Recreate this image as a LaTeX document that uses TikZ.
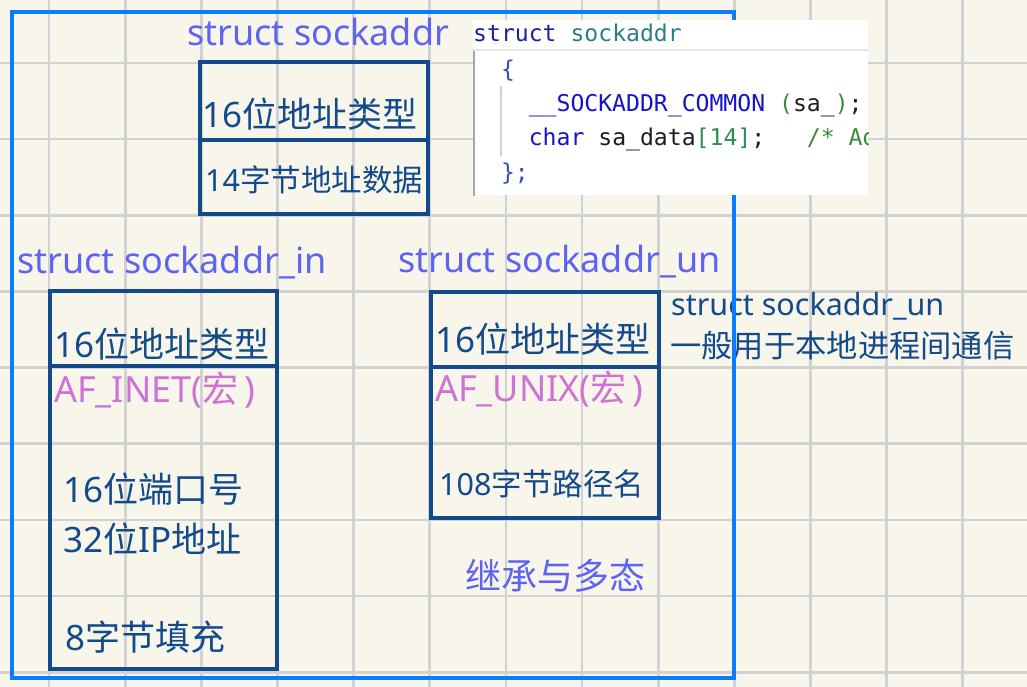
\documentclass[tikz,border=0pt]{standalone}
\usepackage{fontspec}
\setmainfont{Noto Sans}
\newfontfamily\cjk{Noto Sans CJK SC}
\newfontfamily\codefont{DejaVu Sans Mono}
\newcommand{\zh}[1]{{\cjk #1}}
\definecolor{papercol}{HTML}{F8F6EB}
\definecolor{gridcol}{HTML}{D2D2D2}
\definecolor{framecol}{HTML}{0A7CFF}
\definecolor{boxnavy}{HTML}{124A8C}
\definecolor{titleblue}{HTML}{5E63F2}
\definecolor{macropink}{HTML}{CF72D6}
\definecolor{kwblue}{HTML}{1F1FA0}
\definecolor{typeteal}{HTML}{2B7D8C}
\definecolor{braceblue}{HTML}{2F4FC0}
\definecolor{macroblue}{HTML}{1515C8}
\definecolor{codegreen}{HTML}{3A8A3A}
\definecolor{numgreen}{HTML}{2E8B57}
\definecolor{codeink}{HTML}{1E1E1E}

\begin{document}
\begin{tikzpicture}[x=1pt,y=-1pt,line cap=rect,
  lbl/.style={inner sep=0pt,anchor=base west},
  title/.style={lbl,text=titleblue,font=\fontsize{36}{40}\selectfont},
  field/.style={lbl,text=boxnavy,font=\fontsize{35}{40}\selectfont},
  small/.style={lbl,text=boxnavy,font=\fontsize{30.5}{36}\selectfont},
  macro/.style={lbl,text=macropink,font=\fontsize{36}{40}\selectfont},
  cell/.style={draw=boxnavy,line width=3.6pt},
  code/.style={lbl,font=\codefont\fontsize{23.1}{28}\selectfont}]
  \useasboundingbox (0,0) rectangle (1027,687);

  % Squared paper.
  \fill[papercol] (0,0) rectangle (1027,687);
  \foreach \i in {0,...,12}
    \draw[gridcol,line width=2.7pt] ({49+76.15*\i},0)--++(0,687);
  \foreach \j in {0,...,8}
    \draw[gridcol,line width=2.7pt] (0,{63+76.15*\j})--++(1027,0);

  % struct sockaddr.
  \node[title] (sa-title) at (187,46) {struct sockaddr};
  \draw[cell] (200,62) rectangle (428,214);
  \draw[cell] (200,140)--(428,140);
  \node[field] (sa-family) at (202,128) {16\zh{位地址类型}};
  \node[small] (sa-data) at (205,191) {14\zh{字节地址数据}};

  % struct sockaddr_in.
  \node[title] (in-title) at (17,273) {struct sockaddr\_in};
  \draw[cell] (50,291) rectangle (277,669);
  \draw[cell] (50,366)--(277,366);
  \node[field] (in-family) at (54,357) {16\zh{位地址类型}};
  \node[macro] (in-macro) at (54,402) {AF\_INET(\zh{宏}\kern6pt)};
  \node[field] (in-port) at (63,502) {16\zh{位端口号}};
  \node[field] (in-addr) at (63,552) {32\zh{位}IP\zh{地址}};
  \node[field] (in-zero) at (65,650) {8\zh{字节填充}};

  % struct sockaddr_un.
  \node[title] (un-title) at (398,272) {struct sockaddr\_un};
  \draw[cell] (431,292) rectangle (659,518);
  \draw[cell] (431,367)--(659,367);
  \node[field] (un-family) at (435,352) {16\zh{位地址类型}};
  \node[macro] (un-macro) at (435,401) {AF\_UNIX(\zh{宏}\kern6pt)};
  \node[small] (un-path) at (439,495) {108\zh{字节路径名}};

  % Notes.
  \node[small] (un-note) at (671,315) {struct sockaddr\_un};
  \node[small,font=\fontsize{31.3}{36}\selectfont] (un-use) at (670,357)
    {\zh{一般用于本地进程间通信}};
  \node[title] (moral) at (465,589) {\zh{继承与多态}};

  % Outer frame.
  \draw[framecol,line width=3.4pt] (12,12) rectangle (734,678);

  % Code snippet.
  \fill[white] (473,20) rectangle (868,195);
  \draw[black!10,line width=2pt] (473,50)--(868,50);
  \draw[black!35,line width=1.5pt] (474,52)--(474,195);
  \draw[black!18,line width=1.5pt] (501,87)--(501,155);
  \begin{scope}
    \clip (473,20) rectangle (868,195);
    \node[code] (code-head) at (473,42)
      {\textcolor{kwblue}{struct} \textcolor{typeteal}{sockaddr}};
    \node[code] (code-open) at (500.8,78) {\textcolor{braceblue}{\{}};
    \node[code] (code-common) at (528.6,112)
      {\textcolor{macroblue}{\_\_SOCKADDR\_COMMON} \textcolor{codegreen}{(}\textcolor{codeink}{sa\_}\textcolor{codegreen}{)}\textcolor{codeink}{;}};
    \node[code] (code-data) at (528.6,146)
      {\textcolor{macroblue}{char} \textcolor{codeink}{sa\_data}\textcolor{numgreen}{[14]}\textcolor{codeink}{;}\ \ \ \textcolor{codegreen}{/* Ad}};
    \node[code] (code-close) at (500.8,181) {\textcolor{braceblue}{\};}};
  \end{scope}
\end{tikzpicture}
\end{document}
